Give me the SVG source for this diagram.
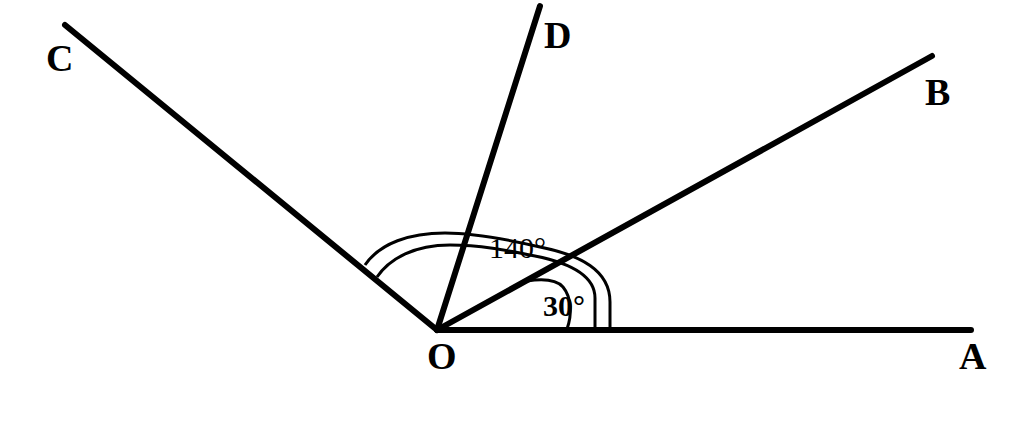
<svg xmlns="http://www.w3.org/2000/svg" width="1024" height="431" viewBox="0 0 1024 431">
<style>
.ray{stroke:#000;stroke-width:6;stroke-linecap:round;fill:none}
.arc{stroke:#000;stroke-width:3;fill:none}
.lbl{font-family:"Liberation Serif","Times New Roman",serif;font-weight:bold;font-size:38px;fill:#000}
.ang{font-family:"Liberation Serif","Times New Roman",serif;font-size:30px;fill:#000}
</style>
<rect width="1024" height="431" fill="#fff"/>
<g id="connectors">
<line class="ray" x1="437" y1="330" x2="971" y2="330"/>
<line class="ray" x1="437" y1="330" x2="932" y2="56"/>
<line class="ray" x1="437" y1="330" x2="540" y2="6"/>
<line class="ray" x1="437" y1="330" x2="65" y2="25"/>
</g>
<g id="angles">
<path class="arc" d="M 610 330 L 610 302 C 610 270, 580 255, 540 247 C 510 240, 475 233, 445 233 C 410 233, 380 243, 365 265"/>
<path class="arc" d="M 595 330 L 595 298 C 595 275, 570 263, 535 256 C 505 250, 480 245, 450 245 C 415 245, 390 258, 377 277"/>
<path class="arc" d="M 527 281 C 540 279, 555 278, 563 287 C 572 298, 572 315, 567 329"/>
<text class="ang" x="489" y="258">140°</text>
<text class="ang" x="543" y="316" font-weight="bold">30°</text>
</g>
<g id="node-O"><text class="lbl" x="427" y="369">O</text></g>
<g id="node-A"><text class="lbl" x="959" y="369">A</text></g>
<g id="node-B"><text class="lbl" x="925" y="105">B</text></g>
<g id="node-C"><text class="lbl" x="46" y="71">C</text></g>
<g id="node-D"><text class="lbl" x="544" y="48">D</text></g>
</svg>
